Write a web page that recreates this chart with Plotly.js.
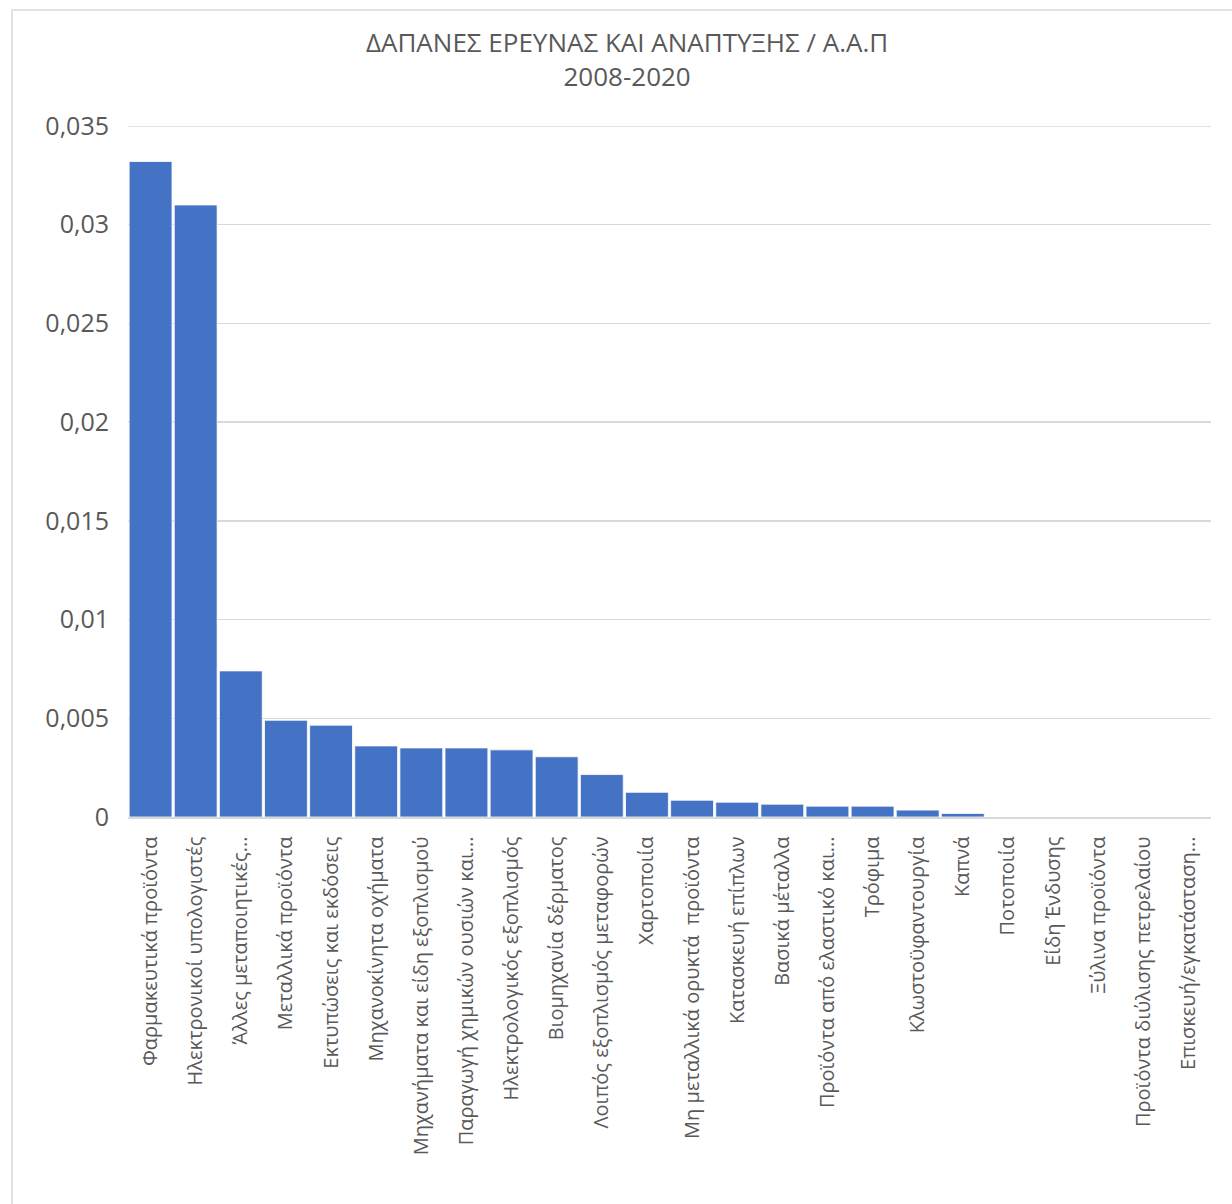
<!DOCTYPE html>
<html>
<head>
<meta charset="utf-8">
<script src="https://cdn.plot.ly/plotly-3.0.1.min.js"></script>
<style>
  html, body { margin: 0; padding: 0; background: #ffffff; }
  #chart { width: 1232px; height: 1204px; }
</style>
</head>
<body>
<div id="chart"></div>
<script>
// R&D expenditure as a share of gross value added, by manufacturing sector, 2008-2020
const sectors = [
  "Φαρμακευτικά προϊόντα",
  "Ηλεκτρονικοί υπολογιστές",
  "Άλλες μεταποιητικές...",
  "Μεταλλικά προϊόντα",
  "Εκτυπώσεις και εκδόσεις",
  "Μηχανοκίνητα οχήματα",
  "Μηχανήματα και είδη εξοπλισμού",
  "Παραγωγή χημικών ουσιών και...",
  "Ηλεκτρολογικός εξοπλισμός",
  "Βιομηχανία δέρματος",
  "Λοιπός εξοπλισμός μεταφορών",
  "Χαρτοποιία",
  "Μη μεταλλικά ορυκτά  προϊόντα",
  "Κατασκευή επίπλων",
  "Βασικά μέταλλα",
  "Προϊόντα από ελαστικό και...",
  "Τρόφιμα",
  "Κλωστοϋφαντουργία",
  "Καπνά",
  "Ποτοποιία",
  "Είδη Ένδυσης",
  "Ξύλινα προϊόντα",
  "Προϊόντα διύλισης πετρελαίου",
  "Επισκευή/εγκατάσταση..."
];

const rdShare = [
  0.0332, 0.0310, 0.0074, 0.0049, 0.00465, 0.0036, 0.0035, 0.0035,
  0.0034, 0.00305, 0.00215, 0.00125, 0.00085, 0.00075, 0.00065, 0.00055,
  0.00055, 0.00035, 0.00018, 0, 0, 0, 0, 0
];

const yMax = 0.035;

const titleLines = ["ΔΑΠΑΝΕΣ ΕΡΕΥΝΑΣ ΚΑΙ ΑΝΑΠΤΥΞΗΣ / Α.Α.Π", "2008-2020"];

const textColor = "#595959";
const gridColor = "#d9d9d9";
const fontFamily = "'Open Sans', 'Noto Sans', sans-serif";

const trace = {
  type: "bar",
  x: sectors,
  y: rdShare,
  marker: { color: "#4472C4", line: { color: "#ffffff", width: 0.8 } },
  hoverinfo: "x+y"
};

const layout = {
  width: 1232,
  height: 1204,
  paper_bgcolor: "#ffffff",
  plot_bgcolor: "#ffffff",
  separators: ",.",
  margin: { l: 128, r: 21, t: 126, b: 387 },
  bargap: 0.05,
  showlegend: false,
  title: {
    text: titleLines.join("<br>"),
    font: { family: fontFamily, size: 26, color: textColor },
    x: 0.509,
    xref: "container",
    xanchor: "center",
    y: 1 - 52 / 1204,
    yref: "container",
    yanchor: "top"
  },
  xaxis: {
    type: "category",
    tickangle: -90,
    tickfont: { family: fontFamily, size: 20, color: textColor },
    showgrid: false,
    showline: true,
    linecolor: gridColor,
    linewidth: 1.5,
    ticks: "",
    ticklabelstandoff: 10,
    fixedrange: true
  },
  yaxis: {
    range: [0, yMax],
    dtick: 0.005,
    tick0: 0,
    tickformat: ".3~f",
    tickfont: { family: fontFamily, size: 25, color: textColor },
    showgrid: true,
    gridcolor: gridColor,
    gridwidth: 1.5,
    zeroline: false,
    showline: false,
    ticks: "",
    ticklabelstandoff: 18,
    fixedrange: true
  },
  shapes: [
    // top gridline at the upper end of the value axis
    {
      type: "line",
      xref: "paper",
      yref: "y",
      x0: 0,
      x1: 1,
      y0: yMax,
      y1: yMax,
      line: { color: gridColor, width: 1.5 },
      layer: "below"
    },
    // chart-area frame
    {
      type: "rect",
      xref: "paper",
      yref: "paper",
      x0: (12 - 128) / 1083,
      x1: 1.05,
      y0: -0.6,
      y1: (817 - 10) / 691,
      line: { color: gridColor, width: 1.5 },
      fillcolor: "rgba(0,0,0,0)",
      layer: "below"
    }
  ]
};

Plotly.newPlot("chart", [trace], layout, { displayModeBar: false, staticPlot: true });
</script>
</body>
</html>
